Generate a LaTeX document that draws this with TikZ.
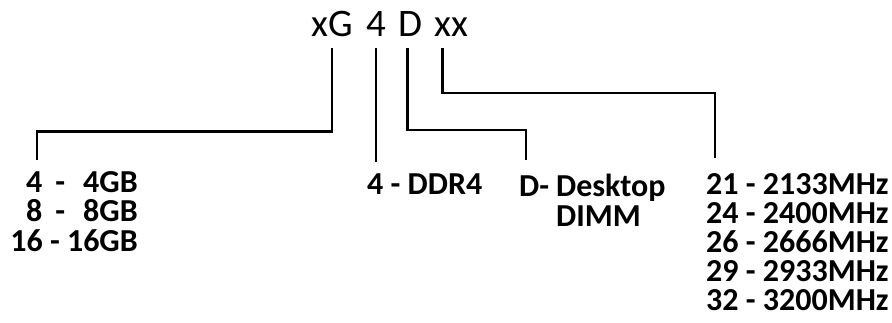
\documentclass[tikz,border=0pt]{standalone}
\usepackage{fontspec}
\setmainfont{Carlito}
\usetikzlibrary{positioning,calc}

\begin{document}
\begin{tikzpicture}[
  x=1pt, y=-1pt,
  every node/.style={inner sep=0pt},
  code/.style={font=\fontsize{39}{42}\selectfont,anchor=base west},
  lbl/.style={font=\bfseries\fontsize{32}{29.5}\selectfont,anchor=north west,align=left},
  speedrow/.style={font=\bfseries\fontsize{32}{34}\selectfont,anchor=base west},
  wire/.style={line width=2.6pt,line join=miter},
]
  \useasboundingbox (0,0) rectangle (892,323);
  % Part number
  \node[code] (xg) at (311,37) {xG};
  \node[code] (ddr) at (366,37) {4};
  \node[code] (form) at (398,37) {D};
  \node[code] (freq) at (434,37) {xx};
  % Size
  \node[lbl,anchor=north east,align=right] (size) at (138,171) {%
    4\hspace{13pt}-\hspace{18pt}4GB\\
    8\hspace{13pt}-\hspace{18pt}8GB\\
    16 - 16GB};
  % Generation
  \node[lbl] (gen) at (367,174) {4 - DDR4};
  % Form factor
  \node[lbl,font=\bfseries\fontsize{32}{30}\selectfont] (form2) at (519,174) {%
    D-\hspace{7pt}\begin{tabular}[t]{@{}l@{}}Desktop\\DIMM\end{tabular}};
  % Speed
  \foreach \code/\mhz [count=\i] in {21/2133,24/2400,26/2666,29/2933,32/3200}
    \node[speedrow] (speed\i) at (706,{195+28.75*(\i-1)}) {\code\ - \mhz MHz};
  % Wire ends
  \coordinate (sizeend) at (37,160);
  \coordinate (genend) at (376,162);
  \coordinate (formend) at (526,160);
  \coordinate (speedend) at (715,158);
  % Wires
  \draw[wire] ([yshift=-11pt]xg.south) -- ++(0,83) -| (sizeend);
  \draw[wire] ([yshift=-11pt]ddr.south) -- (ddr.south |- genend);
  \draw[wire] ([xshift=-3pt,yshift=-11pt]form.south) -- ++(0,82) -| (formend);
  \draw[wire] ([xshift=-8.5pt,yshift=-11pt]freq.south) -- ++(0,45) -| (speedend);
\end{tikzpicture}
\end{document}
